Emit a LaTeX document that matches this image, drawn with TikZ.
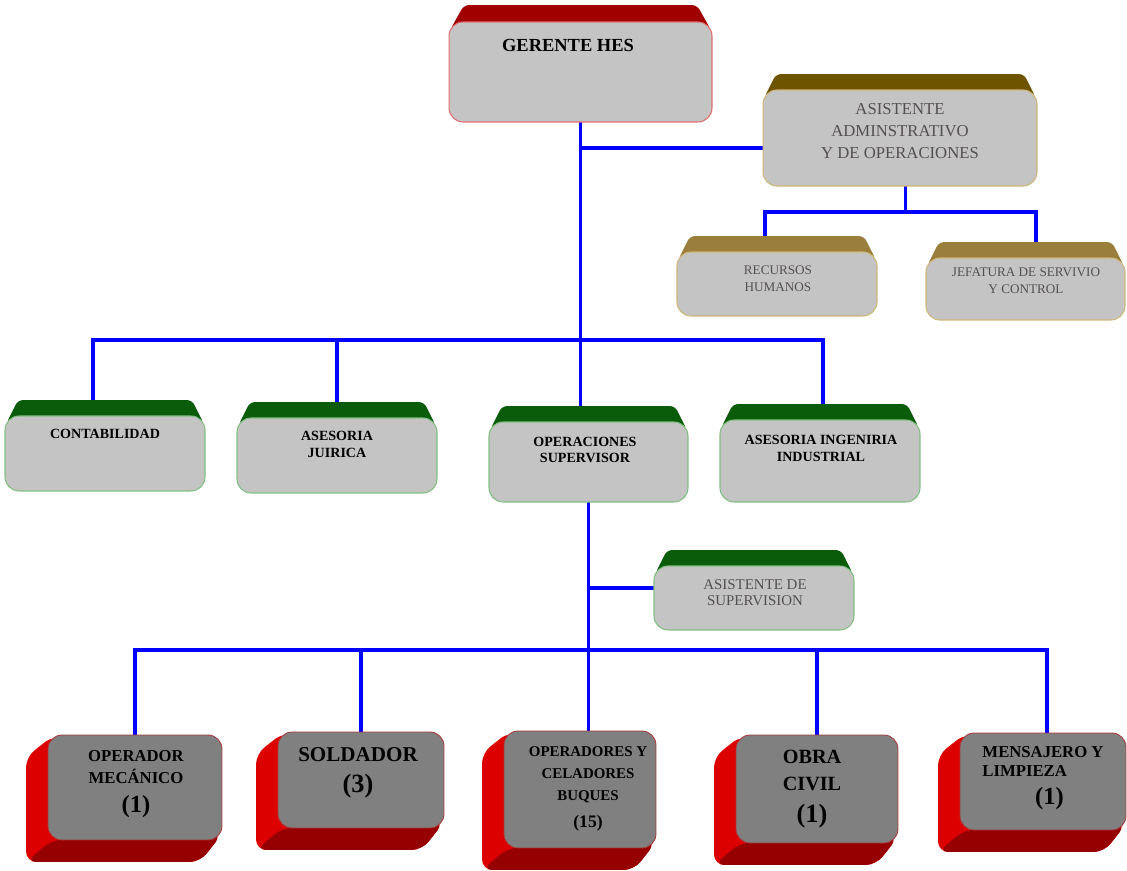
\documentclass[tikz,border=0pt]{standalone}
\usepackage{fontspec}
\setmainfont{Liberation Serif}
\pgfdeclarelayer{lines}
\pgfdeclarelayer{bands}
\pgfsetlayers{lines,bands,main}
\definecolor{azul}{RGB}{0,0,255}
\definecolor{grisclaro}{RGB}{196,196,196}
\definecolor{grisoscuro}{RGB}{128,128,128}
\definecolor{gristexto}{RGB}{85,80,80}
\definecolor{gerband}{RGB}{160,0,0}
\definecolor{gerline}{RGB}{225,110,110}
\definecolor{asband}{RGB}{110,84,0}
\definecolor{rhband}{RGB}{154,127,60}
\definecolor{oroline}{RGB}{205,182,120}
\definecolor{verde}{RGB}{10,92,10}
\definecolor{verdeline}{RGB}{130,190,130}
\definecolor{rojo}{RGB}{221,0,0}
\definecolor{rojooscuro}{RGB}{150,0,0}
\definecolor{rojoline}{RGB}{170,60,60}
\begin{document}
\begin{tikzpicture}[x=0.02cm,y=-0.02cm,line join=round,
	box/.style={draw,rounded corners=8pt,inner sep=0pt,outer sep=0pt,line width=0.6pt,fill=grisclaro},
	caja/.style={draw=rojoline,rounded corners=8pt,inner sep=0pt,outer sep=0pt,line width=0.5pt,fill=grisoscuro},
	txt/.style={align=center,inner sep=0pt},
	link/.style={azul,line width=2pt}]
	\useasboundingbox (0,0) rectangle (1127,871);
	\node[box,draw=gerline,minimum width=52.6mm,minimum height=20mm] (g) at (580.5,72) {};
	\node[box,draw=oroline,minimum width=54.8mm,minimum height=19.2mm] (a) at (900,138) {};
	\node[box,draw=oroline,minimum width=40mm,minimum height=12.8mm] (rh) at (777,284) {};
	\node[box,draw=oroline,minimum width=39.8mm,minimum height=12.4mm] (jf) at (1025.5,289) {};
	\node[box,draw=verdeline,minimum width=40mm,minimum height=15mm] (c) at (105,453.5) {};
	\node[box,draw=verdeline,minimum width=40mm,minimum height=15mm] (aj) at (337,455.5) {};
	\node[box,draw=verdeline,minimum width=39.8mm,minimum height=16mm] (os) at (588.5,462) {};
	\node[box,draw=verdeline,minimum width=40mm,minimum height=16.4mm] (ai) at (820,461) {};
	\node[box,draw=verdeline,minimum width=40mm,minimum height=12.8mm] (as) at (754,598) {};
	\node[caja,minimum width=34.8mm,minimum height=21mm] (om) at (135,787.5) {};
	\node[caja,minimum width=33.2mm,minimum height=19.2mm] (so) at (361,780) {};
	\node[caja,minimum width=30.4mm,minimum height=23.4mm] (ob) at (580,789.5) {};
	\node[caja,minimum width=32.4mm,minimum height=21.6mm] (oc) at (817,789) {};
	\node[caja,minimum width=33.2mm,minimum height=19.4mm] (me) at (1043,781.5) {};

	\node[txt,font=\bfseries\fontsize{10.5}{12}\selectfont] (gt) at (568,45) {GERENTE HES};
	\node[txt,gristexto,font=\fontsize{9.5}{12.5}\selectfont] (at) at (900,131) {ASISTENTE\\ADMINSTRATIVO\\Y DE OPERACIONES};
	\node[txt,gristexto,font=\fontsize{7.5}{9.8}\selectfont] (rht) at (778,278.5) {RECURSOS\\HUMANOS};
	\node[txt,gristexto,font=\fontsize{7.5}{9.8}\selectfont] (jft) at (1026,281) {JEFATURA DE SERVIVIO\\Y CONTROL};
	\node[txt,font=\bfseries\fontsize{8}{9.6}\selectfont] (ct) at (105,434) {CONTABILIDAD};
	\node[txt,font=\bfseries\fontsize{8}{9.6}\selectfont] (ajt) at (337,444) {ASESORIA\\JUIRICA};
	\node[txt,font=\bfseries\fontsize{8}{9.6}\selectfont] (ost) at (585,450) {OPERACIONES\\SUPERVISOR};
	\node[txt,font=\bfseries\fontsize{8}{9.6}\selectfont] (ait) at (821,448.5) {ASESORIA INGENIRIA\\INDUSTRIAL};
	\node[txt,gristexto,font=\fontsize{8.5}{9.2}\selectfont] (ast) at (755,593) {ASISTENTE DE\\SUPERVISION};
	\node[txt,font=\bfseries\fontsize{9.5}{12.5}\selectfont] (omt) at (136,784) {OPERADOR\\MEC\'ANICO\\[4pt]{\fontsize{14}{14}\selectfont(1)}};
	\node[txt,font=\bfseries\fontsize{12}{14}\selectfont] (sot) at (358,773) {SOLDADOR\\[4pt]{\fontsize{15}{15}\selectfont(3)}};
	\node[txt,font=\bfseries\fontsize{8.5}{12.5}\selectfont] (obt) at (588,789) {OPERADORES Y\\CELADORES\\BUQUES\\[3pt]{\fontsize{10}{10}\selectfont(15)}};
	\node[txt,font=\bfseries\fontsize{11.5}{15.3}\selectfont] (oct) at (812,789) {OBRA\\CIVIL\\[3pt]{\fontsize{15}{15}\selectfont(1)}};
	\node[txt,align=left,font=\bfseries\fontsize{9.5}{10.8}\selectfont] (met) at (1043,778) {MENSAJERO Y\\LIMPIEZA\\[5pt]\hspace*{30pt}{\fontsize{14}{14}\selectfont(1)}};

	\coordinate (bus1) at (0,212);
	\coordinate (bus2) at (0,340);
	\coordinate (bus3) at (0,650);

	\begin{pgfonlayer}{bands}
	\fill[gerband,rounded corners=3pt] ([shift={(1,8)}]g.north west) -- ([shift={(15,-17)}]g.north west) -- ([shift={(-15,-17)}]g.north east) -- ([shift={(-1,8)}]g.north east) -- cycle;
	\foreach \n/\c in {a/asband,rh/rhband,jf/rhband,c/verde,aj/verde,os/verde,ai/verde,as/verde}
		\fill[\c,rounded corners=3pt] ([shift={(1,8)}]\n.north west) -- ([shift={(13,-16)}]\n.north west) -- ([shift={(-13,-16)}]\n.north east) -- ([shift={(-1,8)}]\n.north east) -- cycle;
	\foreach \n in {om,so,ob,oc,me}{
		\fill[rojo,rounded corners=6pt] ([shift={(6,0)}]\n.north west) -- ([shift={(-22,22)}]\n.north west) -- ([shift={(-22,22)}]\n.south west) -- ([shift={(-22,22)}]\n.south east) -- ([shift={(0,-6)}]\n.south east) -- cycle;
		\fill[rojooscuro,rounded corners=6pt] ([shift={(4,0)}]\n.south west) -- ([shift={(-22,22)}]\n.south west) -- ([shift={(-22,22)}]\n.south east) -- ([shift={(0,-6)}]\n.south east) -- cycle;
	}
	\end{pgfonlayer}

	\begin{pgfonlayer}{lines}
	\draw[link] (g.south) -- (g.south |- os.north);
	\draw[link] ([yshift=-5.7pt]a.west) -- ([yshift=-5.7pt]a.west -| g.south);
	\draw[link] ([xshift=3pt]a.south) -- ([xshift=3pt]a.south |- bus1);
	\draw[link] ([xshift=-6.8pt]rh.north) -- ([xshift=-6.8pt]rh.north |- bus1) -| ([xshift=6pt]jf.north);
	\draw[link] ([xshift=-6.8pt]c.north) -- ([xshift=-6.8pt]c.north |- bus2) -| ([xshift=1.7pt]ai.north);
	\draw[link] (aj.north) -- (aj.north |- bus2);
	\draw[link] (os.south) -- (os.south |- ob.north);
	\draw[link] ([yshift=5.7pt]as.west) -- ([yshift=5.7pt]as.west -| os.south);
	\draw[link] (om.north) -- (om.north |- bus3) -| ([xshift=2.3pt]me.north);
	\foreach \n in {so,oc}
		\draw[link] (\n.north) -- (\n.north |- bus3);
	\end{pgfonlayer}
\end{tikzpicture}
\end{document}
